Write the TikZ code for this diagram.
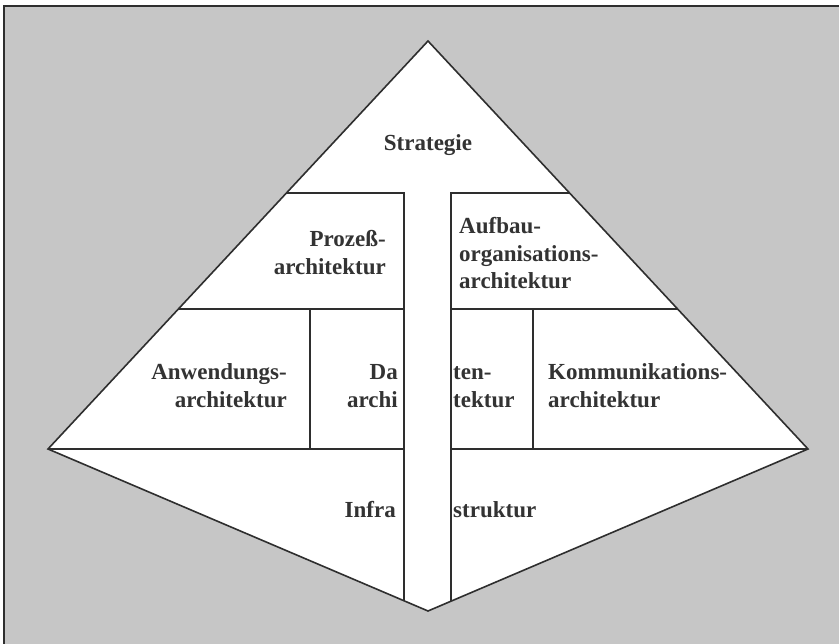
\documentclass[tikz,border=0pt]{standalone}
\usepackage{fontspec}
\setmainfont{Liberation Serif}
\definecolor{bggray}{HTML}{C6C6C6}
\definecolor{ink}{HTML}{2E2E2E}
\definecolor{txt}{HTML}{333333}
\begin{document}
\begin{tikzpicture}[x=1pt,y=-1pt,
  edge/.style={draw=ink,line width=1.6pt,line join=miter},
  lbl/.style={inner sep=0pt,text=txt,font=\fontsize{23}{28}\selectfont\bfseries},
  lblR/.style={lbl,anchor=base east},
  lblL/.style={lbl,anchor=base west}]
\useasboundingbox (0,0) rectangle (839,644);
% background panel
\fill[bggray] (4,6) rectangle (839,644);
\draw[ink,line width=2pt] (4,644) -- (4,6) -- (839,6);
% key points
\coordinate (A) at (428,41);
\coordinate (L) at (48,449);
\coordinate (R) at (808,449);
\coordinate (B) at (428,611);
\coordinate (l1) at (286.4,193);
\coordinate (r1) at (569.6,193);
\coordinate (l2) at (178.4,309);
\coordinate (r2) at (677.6,309);
\coordinate (cl1) at (404,193);
\coordinate (cr1) at (451,193);
\coordinate (cl2) at (404,309);
\coordinate (cr2) at (451,309);
\coordinate (cl3) at (404,449);
\coordinate (cr3) at (451,449);
\coordinate (cl4) at (404,600.8);
\coordinate (cr4) at (451,601);
\coordinate (dl1) at (310,309);
\coordinate (dl2) at (310,449);
\coordinate (dr1) at (533,309);
\coordinate (dr2) at (533,449);
% pyramid
\fill[white] (A) -- (L) -- (B) -- (R) -- cycle;
\draw[edge] (A) -- (L) -- (B) -- (R) -- cycle;
\draw[edge] (l1) -- (cl1) -- (cl4);
\draw[edge] (r1) -- (cr1) -- (cr4);
\draw[edge] (l2) -- (cl2);
\draw[edge] (cr2) -- (r2);
\draw[edge] (L) -- (cl3);
\draw[edge] (cr3) -- (R);
\draw[edge] (dl1) -- (dl2);
\draw[edge] (dr1) -- (dr2);
% labels
\node[lbl,anchor=base] (strat) at (428,151) {Strategie};
\node[lblR] (proz1) at (386,247) {Prozeß-};
\node[lblR] (proz2) at (386,275) {architektur};
\node[lblL] (auf1) at (459,234) {Aufbau-};
\node[lblL] (auf2) at (459,262) {organisations-};
\node[lblL] (auf3) at (459,289) {architektur};
\node[lblR] (anw1) at (287,380) {Anwendungs-};
\node[lblR] (anw2) at (287,408) {architektur};
\node[lblR] (dat1) at (398,380) {Da};
\node[lblR] (dat2) at (398,408) {archi};
\node[lblL] (dat3) at (453,380) {ten-};
\node[lblL] (dat4) at (453,408) {tektur};
\node[lblL] (kom1) at (548,380) {Kommunikations-};
\node[lblL] (kom2) at (548,408) {architektur};
\node[lblR] (inf1) at (396,518) {Infra};
\node[lblL] (inf2) at (453,518) {struktur};
\end{tikzpicture}
\end{document}
